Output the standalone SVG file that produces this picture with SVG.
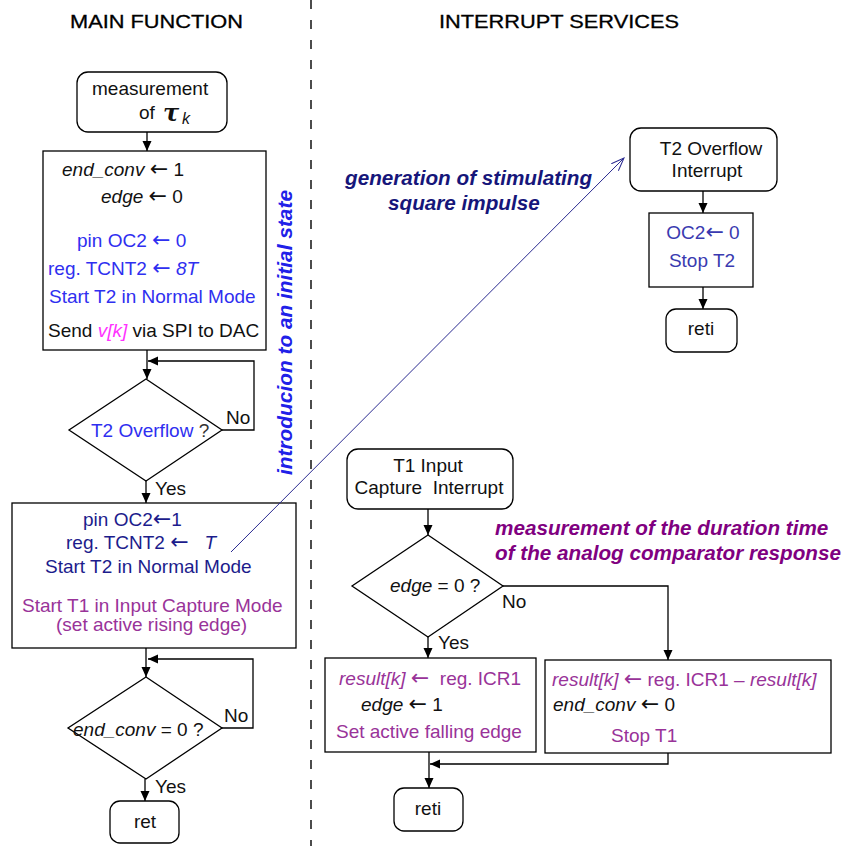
<svg xmlns="http://www.w3.org/2000/svg" width="849" height="846" viewBox="0 0 849 846">
<style>
text{font-family:"Liberation Sans",Arial,sans-serif;font-size:19px;fill:#111}
.t{font-size:18.6px;fill:#000;stroke:#000;stroke-width:0.3}
.i{font-style:italic}
.ar{font-family:"DejaVu Sans",sans-serif;font-size:22px}
.b1{fill:#2f2ff0}
.b2{fill:#1c1c8c}
.b3{fill:#3a3ab0}
.p{fill:#993399}
.m{fill:#ff33ff}
.g{fill:#333}
.an{font-size:20.7px;font-weight:bold;font-style:italic}
.box{fill:#fff;stroke:#000;stroke-width:1.3}
.ln{fill:none;stroke:#000;stroke-width:1.3}
</style>
<defs>
<marker id="ah" markerUnits="userSpaceOnUse" markerWidth="10" markerHeight="10" refX="10" refY="4.5" orient="auto">
<path d="M0,0 L10,4.5 L0,9 z" fill="#000"/>
</marker>
<marker id="oh" markerUnits="userSpaceOnUse" markerWidth="14" markerHeight="12" refX="13" refY="5" orient="auto">
<path d="M0,0 L13,5 L0,10" fill="none" stroke="#2a2a90" stroke-width="1"/>
</marker>
</defs>
<rect width="849" height="846" fill="#fff"/>

<g id="titles">
<text class="t" x="70" y="28" textLength="173" lengthAdjust="spacingAndGlyphs">MAIN FUNCTION</text>
<text class="t" x="439" y="28" textLength="240" lengthAdjust="spacingAndGlyphs">INTERRUPT SERVICES</text>
</g>

<line x1="311" y1="0" x2="311" y2="846" stroke="#000" stroke-width="1.4" stroke-dasharray="9 11"/>

<g id="start">
<rect class="box" x="77" y="72" width="150" height="60" rx="11"/>
<text x="92" y="95">measurement</text>
<text x="139" y="119">of</text>
<text x="163" y="121" style="font-family:'DejaVu Serif',serif;font-size:24px;font-style:italic;font-weight:bold">τ</text>
<text x="182" y="124" class="i" style="font-size:16px">k</text>
</g>

<g id="init">
<rect class="box" x="43" y="151" width="223" height="199"/>
<text x="62" y="176"><tspan class="i">end_conv</tspan> <tspan class="ar">←</tspan> 1</text>
<text x="101" y="203"><tspan class="i">edge</tspan> <tspan class="ar">←</tspan> 0</text>
<text x="77" y="247" class="b1">pin OC2 <tspan class="ar b1">←</tspan> 0</text>
<text x="48" y="275" class="b1">reg. TCNT2 <tspan class="ar b1">←</tspan> <tspan class="i b1">8T</tspan></text>
<text x="49" y="303" class="b1">Start T2 in Normal Mode</text>
<text x="48" y="337">Send <tspan class="i m">v[k]</tspan> via SPI to DAC</text>
</g>

<text class="an" style="fill:#2020e8" transform="translate(292,475) rotate(-90)" textLength="285" lengthAdjust="spacingAndGlyphs">introducion to an initial state</text>

<g id="t2check">
<polygon class="box" points="146,379 222,430 146,481 69,430"/>
<text x="91" y="437"><tspan class="b1">T2 Overflow</tspan><tspan class="g"> ?</tspan></text>
<text x="226" y="424">No</text>
<text x="155" y="495">Yes</text>
</g>

<g id="start2">
<rect class="box" x="12" y="503" width="284" height="145"/>
<text x="83" y="526" class="b2">pin OC2<tspan class="ar b2">←</tspan>1</text>
<text x="66" y="549" class="b2">reg. TCNT2 <tspan class="ar b2">←</tspan>&#160;&#160;&#160;<tspan class="i b2">T</tspan></text>
<text x="45" y="573" class="b2">Start T2 in Normal Mode</text>
<text x="22" y="612" class="p">Start T1 in Input Capture Mode</text>
<text x="56" y="631" class="p">(set active rising edge)</text>
</g>

<g id="endcheck">
<polygon class="box" points="146,677 222,728 146,779 68,728"/>
<text x="73" y="736"><tspan class="i">end_conv</tspan> = 0 ?</text>
<text x="224" y="722">No</text>
<text x="155" y="793">Yes</text>
</g>

<g id="ret">
<rect class="box" x="110" y="801" width="69" height="42" rx="10"/>
<text x="145" y="828" text-anchor="middle">ret</text>
</g>

<text class="an" x="345" y="185" style="fill:#16167a">generation of stimulating</text>
<text class="an" x="388" y="210" style="fill:#16167a">square impulse</text>

<g id="t2int">
<rect class="box" x="630" y="128" width="147" height="63" rx="11"/>
<text x="711" y="155" text-anchor="middle">T2 Overflow</text>
<text x="707" y="177" text-anchor="middle">Interrupt</text>
</g>

<g id="stopt2">
<rect class="box" x="649" y="213" width="104" height="74"/>
<text x="703" y="239" text-anchor="middle" class="b3">OC2<tspan class="ar b3">←</tspan> 0</text>
<text x="702" y="267" text-anchor="middle" class="b3">Stop T2</text>
</g>

<g id="reti1">
<rect class="box" x="666" y="309" width="71" height="43" rx="10"/>
<text x="701" y="335" text-anchor="middle">reti</text>
</g>

<g id="t1int">
<rect class="box" x="347" y="449" width="166" height="60" rx="11"/>
<text x="428" y="472" text-anchor="middle">T1 Input</text>
<text x="429" y="494" text-anchor="middle">Capture&#160; Interrupt</text>
</g>

<text class="an" x="495" y="535" style="fill:#800080">measurement of the duration time</text>
<text class="an" x="495" y="560" style="fill:#800080">of the analog comparator response</text>

<g id="edgecheck">
<polygon class="box" points="428,535 503,586 428,637 352,586"/>
<text x="390" y="592"><tspan class="i">edge</tspan> = 0 ?</text>
<text x="502" y="608">No</text>
<text x="438" y="649">Yes</text>
</g>

<g id="rising">
<rect class="box" x="325" y="658" width="211" height="94"/>
<text x="339" y="685" class="p"><tspan class="i p">result[k]</tspan> <tspan class="ar p">←</tspan>&#160; reg. ICR1</text>
<text x="361" y="711"><tspan class="i">edge</tspan> <tspan class="ar">←</tspan> 1</text>
<text x="336" y="738" class="p">Set active falling edge</text>
</g>

<g id="falling">
<rect class="box" x="545" y="660" width="286" height="93"/>
<text x="552" y="686" class="p"><tspan class="i p">result[k]</tspan> <tspan class="ar p">←</tspan> reg. ICR1 – <tspan class="i p">result[k]</tspan></text>
<text x="553" y="711"><tspan class="i">end_conv</tspan> <tspan class="ar">←</tspan> 0</text>
<text x="611" y="742" class="p">Stop T1</text>
</g>

<g id="reti2">
<rect class="box" x="394" y="788" width="69" height="43" rx="10"/>
<text x="428" y="815" text-anchor="middle">reti</text>
</g>

<g id="connectors">
<line class="ln" x1="147" y1="132" x2="147" y2="151" marker-end="url(#ah)"/>
<line class="ln" x1="147" y1="350" x2="147" y2="379" marker-end="url(#ah)"/>
<polyline class="ln" points="222,430 254,430 254,361 148,361" marker-end="url(#ah)"/>
<line class="ln" x1="146" y1="481" x2="146" y2="503" marker-end="url(#ah)"/>
<line class="ln" x1="146" y1="648" x2="146" y2="677" marker-end="url(#ah)"/>
<polyline class="ln" points="222,728 253,728 253,659 148,659" marker-end="url(#ah)"/>
<line class="ln" x1="145" y1="779" x2="145" y2="801" marker-end="url(#ah)"/>
<line class="ln" x1="703" y1="191" x2="703" y2="213" marker-end="url(#ah)"/>
<line class="ln" x1="703" y1="287" x2="703" y2="309" marker-end="url(#ah)"/>
<line class="ln" x1="428" y1="509" x2="428" y2="535" marker-end="url(#ah)"/>
<polyline class="ln" points="503,586 668,586 668,660" marker-end="url(#ah)"/>
<line class="ln" x1="428" y1="637" x2="428" y2="658" marker-end="url(#ah)"/>
<polyline class="ln" points="668,753 668,764 430,764" marker-end="url(#ah)"/>
<line class="ln" x1="429" y1="752" x2="429" y2="788" marker-end="url(#ah)"/>
<line x1="231" y1="552" x2="624" y2="158" stroke="#2a2a90" stroke-width="1" marker-end="url(#oh)"/>
</g>
</svg>
